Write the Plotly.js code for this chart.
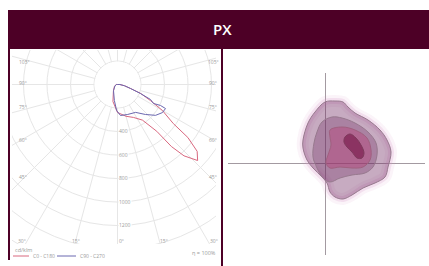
<!DOCTYPE html>
<html><head><meta charset="utf-8">
<script src="https://cdn.plot.ly/plotly-3.0.1.min.js"></script>
<style>
html,body{margin:0;padding:0;background:#fff;width:429px;height:266px;overflow:hidden;}
#clip{position:absolute;left:12px;top:50px;width:204px;height:194px;overflow:hidden;z-index:0;}
#polar{position:absolute;left:-106.5px;top:-177.5px;width:423px;height:423px;}
#main{position:absolute;left:0;top:0;width:429px;height:266px;z-index:1;}
</style></head><body>
<div id="clip"><div id="polar"></div></div>
<div id="main"></div>
<script>
// ---- data ----
const chartTitle = 'PX';
const seriesNames = ['C0 - C180', 'C90 - C270'];
const unitLabel = 'cd/klm';
const effLabel = 'η = 100%';
// luminous intensity curves (gamma angle from nadir, + = right half)
const c0Theta = [-180, -90, -60, -30, -15, 0, 15, 26, 35, 40, 41, 43, 46.5, 50, 53, 55, 60, 64, 69, 73, 80, 90, 180];
const c0Intensity = [0, 10, 30, 70, 150, 238, 280, 312, 370, 520, 700, 830, 940, 885, 750, 580, 440, 312, 210, 116, 60, 20, 0];
const c90Theta = [-180, -90, -60, -34, -11, -2, 5.5, 18, 33, 43, 51, 58, 63.4, 64, 62.2, 65.6, 68.6, 73, 80, 90, 180];
const c90Intensity = [0, 10, 25, 61, 139, 221, 265, 269, 283, 349, 417, 451, 457, 407, 346, 309, 210, 116, 60, 20, 0];
const ringValues = [400, 600, 800, 1000, 1200];
const sideAngleLabels = ['105°', '90°', '75°', '60°', '45°'];
const bottomAngleLabels = ['30°', '15°', '0°', '15°', '30°'];
// isolux contour levels (right panel)
const lvl1X = [0, 10, 18, 23, 30, 43, 55, 62, 66, 63, 60, 50, 38, 27, 18, 10, 5, 2, -3, -12, -18, -22, -22, -17, -10];
const lvl1Y = [61, 62, 61, 56, 50, 43, 33, 23, 11, -4, -14, -20, -25, -32, -36, -34, -29, -20, -14, -5, 3, 15, 23, 40, 51];
const lvl2X = [-3, 7, 17, 30, 43, 51, 52, 48, 40, 27, 15, 5, -2, -8, -12, -11, -8];
const lvl2Y = [41, 46, 45, 40, 31, 20, 8, -4, -10, -12, -15, -19, -15, -5, 6, 20, 31];
const lvl3X = [5, 17, 30, 42, 46, 45, 38, 27, 15, 5, 1, 3, 6, 5];
const lvl3Y = [33, 36, 33, 25, 13, 3, -4, -5, -4, -5, 0, 8, 18, 26];
const lvl4X = [20, 25, 31, 36, 39, 37, 32, 27, 22, 19];
const lvl4Y = [26, 29, 25, 18, 10, 5, 5, 11, 16, 21];

// ---- polar diagram ----
const gridCol = '#e6e6e6';
const polarTraces = [
  {type:'barpolar', r:[196], theta:[0], width:[360], marker:{color:'#ffffff', line:{width:0}}, hoverinfo:'skip'},
  {type:'scatterpolar', mode:'lines', r:c0Intensity, theta:c0Theta, name:seriesNames[0], line:{color:'#d9687f', width:1}},
  {type:'scatterpolar', mode:'lines', r:c90Intensity, theta:c90Theta, name:seriesNames[1], line:{color:'#6b68b0', width:1}}
];
const polarLayout = {
  width:423, height:423, margin:{l:0,r:0,t:0,b:0,pad:0},
  paper_bgcolor:'#ffffff', showlegend:false,
  polar:{domain:{x:[0,1],y:[0,1]}, bgcolor:'#ffffff',
    radialaxis:{range:[0,1800], tick0:0, dtick:200, showticklabels:false, ticks:'', showline:false, gridcolor:gridCol, gridwidth:1},
    angularaxis:{rotation:-90, direction:'counterclockwise', dtick:15, showticklabels:false, ticks:'', showline:false, gridcolor:gridCol, gridwidth:1}
  }
};
Plotly.newPlot('polar', polarTraces, polarLayout, {staticPlot:true, displayModeBar:false});

// ---- main figure ----
const W = 429, H = 266;
const px = x => x / W, py = y => 1 - y / H;
const maroon = '#4d0026';
const centerY = 84, pxPerUnit = 23.5 / 200;
const lblFont = {family:'Open Sans, sans-serif', size:5, color:'#9a9a9a'};
const A = o => Object.assign({xref:'paper', yref:'paper', showarrow:false, yanchor:'middle'}, o);

const ann = [];
ann.push(A({text:chartTitle, x:px(222), y:py(29.5),
  font:{family:'Open Sans, sans-serif', size:15, color:'#ffffff', weight:600}}));
const sideY = [62, 83, 107, 140, 177];
sideAngleLabels.forEach((t, i) => {
  ann.push(A({text:t, x:px(17), y:py(sideY[i]), font:lblFont}));
  ann.push(A({text:t, x:px(213), y:py(sideY[i]), font:lblFont}));
});
const bottomX = [16, 70, 117, 164, 214];
bottomAngleLabels.forEach((t, i) => {
  ann.push(A({text:t, x:px(bottomX[i]), y:py(241), font:lblFont}));
});
ringValues.forEach(v => {
  ann.push(A({text:String(v), x:px(117.5), y:py(centerY + v * pxPerUnit), font:lblFont, bgcolor:'#ffffff', borderpad:0}));
});
ann.push(A({text:unitLabel, x:px(13), y:py(250), xanchor:'left', font:{...lblFont, size:5.5}}));
ann.push(A({text:seriesNames[0], x:px(31), y:py(256), xanchor:'left', font:lblFont}));
ann.push(A({text:seriesNames[1], x:px(78), y:py(256), xanchor:'left', font:lblFont}));
ann.push(A({text:effLabel, x:px(218), y:py(253), xanchor:'right', font:{...lblFont, size:5.5}}));

const shapes = [
  {type:'rect', xref:'paper', yref:'paper', x0:px(8), x1:px(429), y0:py(49), y1:py(10), fillcolor:maroon, line:{width:0}},
  {type:'rect', xref:'paper', yref:'paper', x0:px(8), x1:px(10), y0:py(260), y1:py(49), fillcolor:maroon, line:{width:0}},
  {type:'rect', xref:'paper', yref:'paper', x0:px(221), x1:px(223), y0:py(266), y1:py(49), fillcolor:maroon, line:{width:0}},
  {type:'line', xref:'paper', yref:'paper', x0:px(13), x1:px(29), y0:py(256), y1:py(256), line:{color:'#d9687f', width:1}},
  {type:'line', xref:'paper', yref:'paper', x0:px(57), x1:px(76), y0:py(256), y1:py(256), line:{color:'#6b68b0', width:1}}
];

const close = a => a.concat([a[0]]);
const outline = '#97798e';
const mainTraces = [
  {x:close(lvl1X), y:close(lvl1Y), mode:'lines', line:{shape:'spline', color:'rgba(215,150,200,0.10)', width:12}, hoverinfo:'skip'},
  {x:close(lvl1X), y:close(lvl1Y), mode:'lines', line:{shape:'spline', color:'rgba(215,150,200,0.22)', width:6}, hoverinfo:'skip'},
  {x:close(lvl1X), y:close(lvl1Y), mode:'lines', fill:'toself', fillcolor:'rgba(115,45,100,0.40)', line:{shape:'spline', color:outline, width:1}},
  {x:close(lvl2X), y:close(lvl2Y), mode:'lines', fill:'toself', fillcolor:'rgba(110,45,95,0.32)', line:{shape:'spline', color:outline, width:1}},
  {x:close(lvl3X), y:close(lvl3Y), mode:'lines', fill:'toself', fillcolor:'rgba(185,65,120,0.42)', line:{shape:'spline', color:'#a0607f', width:1}},
  {x:close(lvl4X), y:close(lvl4Y), mode:'lines', fill:'toself', fillcolor:'rgba(110,10,60,0.55)', line:{shape:'spline', color:'#7e3a5c', width:1}}
];
const mainLayout = {
  width:W, height:H, margin:{l:0,r:0,t:0,b:0,pad:0},
  paper_bgcolor:'rgba(0,0,0,0)', plot_bgcolor:'rgba(0,0,0,0)', showlegend:false,
  xaxis:{domain:[px(228), px(425)], range:[-97, 100], showgrid:false, zeroline:true, zerolinecolor:'#a39aa1', zerolinewidth:1,
    showticklabels:false, ticks:'', showline:false, fixedrange:true},
  yaxis:{domain:[1 - 255/H, 1 - 73/H], range:[-92, 90], showgrid:false, zeroline:true, zerolinecolor:'#a39aa1', zerolinewidth:1,
    showticklabels:false, ticks:'', showline:false, fixedrange:true},
  shapes:shapes, annotations:ann
};
Plotly.newPlot('main', mainTraces, mainLayout, {staticPlot:true, displayModeBar:false});
</script>
</body></html>
